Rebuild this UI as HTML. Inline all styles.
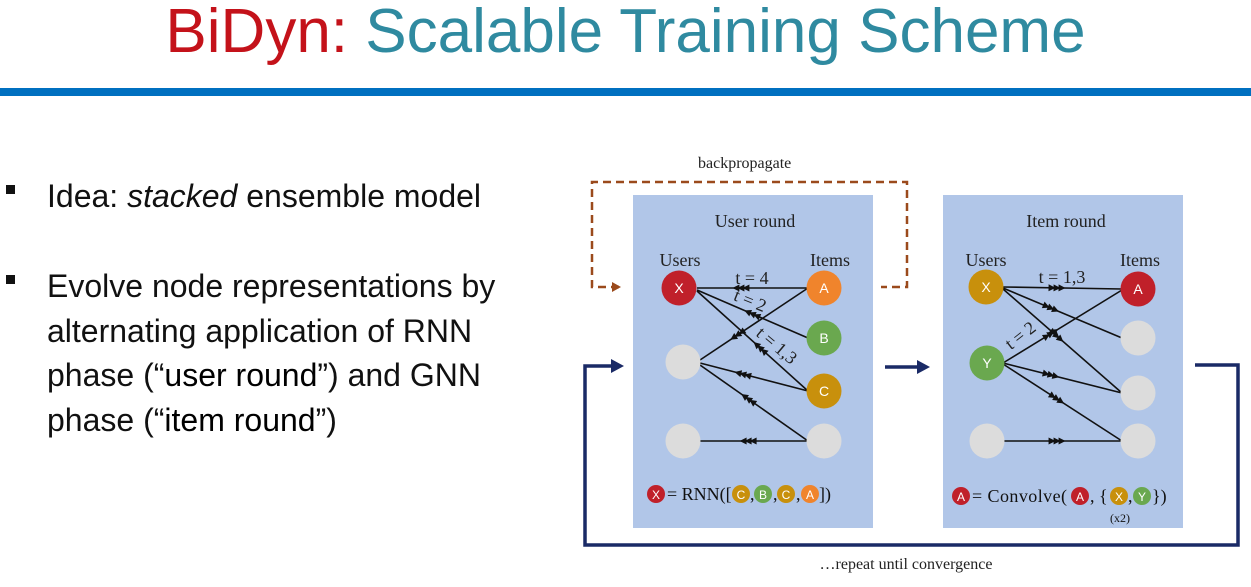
<!DOCTYPE html>
<html><head><meta charset="utf-8"><style>
body{margin:0;width:1251px;height:587px;background:#fff;overflow:hidden;position:relative;font-family:"Liberation Sans",sans-serif}
.t{position:absolute;white-space:nowrap}
</style></head><body>
<div class="t" style="left:0;width:1251px;text-align:center;top:-4px;font-size:62px;color:#2f8aa0"><span style="color:#c4121a">BiDyn:</span> Scalable Training Scheme</div>
<div style="position:absolute;left:0;top:88px;width:1251px;height:8px;background:#0070c0"></div>
<div style="position:absolute;left:6px;top:185px;width:9px;height:9px;background:#111"></div>
<div style="position:absolute;left:6px;top:275px;width:9px;height:9px;background:#111"></div>
<div class="t" style="left:47px;top:174px;font-size:32px;color:#111;line-height:44px">Idea: <i>stacked</i> ensemble model</div>
<div class="t" style="left:47px;top:264px;font-size:32px;color:#111;line-height:44.5px">Evolve node representations by<br>alternating application of RNN<br>phase (“<span style="color:#000;font-weight:500">user round</span>”) and GNN<br>phase (“<span style="color:#000">item round</span>”)</div>
<svg id="s" width="1251" height="587" style="position:absolute;left:0;top:0" font-family="Liberation Serif,serif">
<rect x="633" y="195" width="240" height="333" fill="#b1c6e8"/>
<rect x="943" y="195" width="240" height="333" fill="#b1c6e8"/>
<text x="698" y="168" font-size="16" fill="#222">backpropagate</text>
<path d="M619 287 H592 V182 H907 V287 H881" fill="none" stroke="#9b4a1c" stroke-width="2.5" stroke-dasharray="8,5"/>
<path d="M612 282 L621 287 L612 292Z" fill="#9b4a1c"/>
<path d="M1195 365 H1238 V545 H585 V366 H613" fill="none" stroke="#1a2a66" stroke-width="3.5"/>
<path d="M611 359 L624 366 L611 373Z" fill="#1a2a66"/>
<path d="M885 367 H918" stroke="#1a2a66" stroke-width="3.5"/>
<path d="M917 360 L930 367 L917 374Z" fill="#1a2a66"/>
<text x="906" y="569" font-size="16" text-anchor="middle" fill="#222">…repeat until convergence</text>
<g font-size="18" fill="#222" text-anchor="middle">
<text x="755" y="227">User round</text><text x="1066" y="227">Item round</text>
<text x="680" y="266">Users</text><text x="830" y="266">Items</text>
<text x="986" y="266">Users</text><text x="1140" y="266">Items</text>
<text x="752" y="284">t = 4</text>
<text x="748" y="306" transform="rotate(22 748 306)">t = 2</text>
<text x="773" y="350" transform="rotate(40 773 350)">t = 1,3</text>
<text x="1062" y="283">t = 1,3</text>
<text x="1024" y="340" transform="rotate(-38 1024 340)">t = 2</text>
</g>
<g id="edges" stroke="#111" stroke-width="1.6"></g>
<g id="nodes" font-family="Liberation Sans,sans-serif" font-size="14" fill="#fff" text-anchor="middle"></g>
<g font-size="18" fill="#111">
<circle cx="656" cy="494" r="9" fill="#c0202a"/><text x="656" y="499" font-size="12" fill="#fff" text-anchor="middle" font-family="Liberation Sans">X</text>
<text x="667" y="500">= RNN([</text>
<circle cx="741" cy="494" r="9" fill="#c8900c"/><text x="741" y="499" font-size="12" fill="#fff" text-anchor="middle" font-family="Liberation Sans">C</text>
<text x="750" y="500">,</text>
<circle cx="763" cy="494" r="9" fill="#6aa84f"/><text x="763" y="499" font-size="12" fill="#fff" text-anchor="middle" font-family="Liberation Sans">B</text>
<text x="773" y="500">,</text>
<circle cx="786" cy="494" r="9" fill="#c8900c"/><text x="786" y="499" font-size="12" fill="#fff" text-anchor="middle" font-family="Liberation Sans">C</text>
<text x="796" y="500">,</text>
<circle cx="810" cy="494" r="9" fill="#f0842c"/><text x="810" y="499" font-size="12" fill="#fff" text-anchor="middle" font-family="Liberation Sans">A</text>
<text x="819" y="500">])</text>
<circle cx="961" cy="496" r="9" fill="#c0202a"/><text x="961" y="501" font-size="12" fill="#fff" text-anchor="middle" font-family="Liberation Sans">A</text>
<text x="972" y="502" textLength="95">= Convolve(</text>
<circle cx="1080" cy="496" r="9" fill="#c0202a"/><text x="1080" y="501" font-size="12" fill="#fff" text-anchor="middle" font-family="Liberation Sans">A</text>
<text x="1090" y="502">, {</text>
<circle cx="1119" cy="496" r="9" fill="#c8900c"/><text x="1119" y="501" font-size="12" fill="#fff" text-anchor="middle" font-family="Liberation Sans">X</text>
<text x="1128" y="502">,</text>
<circle cx="1142" cy="496" r="9" fill="#6aa84f"/><text x="1142" y="501" font-size="12" fill="#fff" text-anchor="middle" font-family="Liberation Sans">Y</text>
<text x="1152" y="502">})</text>
<text x="1120" y="522" font-size="12" text-anchor="middle">(x2)</text>
</g>
</svg>
<script>
var NS="http://www.w3.org/2000/svg";
function el(p,t,a){var e=document.createElementNS(NS,t);for(var k in a)e.setAttribute(k,a[k]);p.appendChild(e);return e;}
var E=document.getElementById("edges"),N=document.getElementById("nodes");
function edge(x1,y1,x2,y2,f){
 el(E,"line",{x1:x1,y1:y1,x2:x2,y2:y2});
 var dx=x2-x1,dy=y2-y1,L=Math.hypot(dx,dy),ux=dx/L,uy=dy/L;
 var cx=x1+dx*f,cy=y1+dy*f;
 for(var i=-1;i<=1;i++){var px=cx+ux*i*5,py=cy+uy*i*5;
  el(E,"path",{d:"M"+(px+ux*4)+" "+(py+uy*4)+" L"+(px-ux*3-uy*3.5)+" "+(py-uy*3+ux*3.5)+" L"+(px-ux*3+uy*3.5)+" "+(py-uy*3-ux*3.5)+"Z",fill:"#111",stroke:"none"});}
}
edge(808,288,697,288,.6);
edge(808,338,697,290,.5);
edge(808,391,697,291,.43);
edge(808,288,700,360,.65);
edge(808,391,700,363,.6);
edge(808,441,700,365,.55);
edge(808,441,700,441,.55);
edge(1003,287,1122,289,.45);
edge(1003,288,1122,338,.4);
edge(1003,289,1122,393,.45);
edge(1003,363,1122,290,.4);
edge(1003,363,1122,393,.4);
edge(1003,364,1122,441,.45);
edge(1003,441,1122,441,.45);
function node(x,y,c,t){el(N,"circle",{cx:x,cy:y,r:17.5,fill:c});if(t){var e=el(N,"text",{x:x,y:y+5});e.textContent=t;}}
var G="#dcdcdc";
node(679,288,"#c0202a","X");node(683,362,G);node(683,441,G);
node(824,288,"#f0842c","A");node(824,338,"#6aa84f","B");node(824,391,"#c8900c","C");node(824,441,G);
node(986,287,"#c8900c","X");node(987,363,"#6aa84f","Y");node(987,441,G);
node(1138,289,"#c0202a","A");node(1138,338,G);node(1138,393,G);node(1138,441,G);
</script>
</body></html>
